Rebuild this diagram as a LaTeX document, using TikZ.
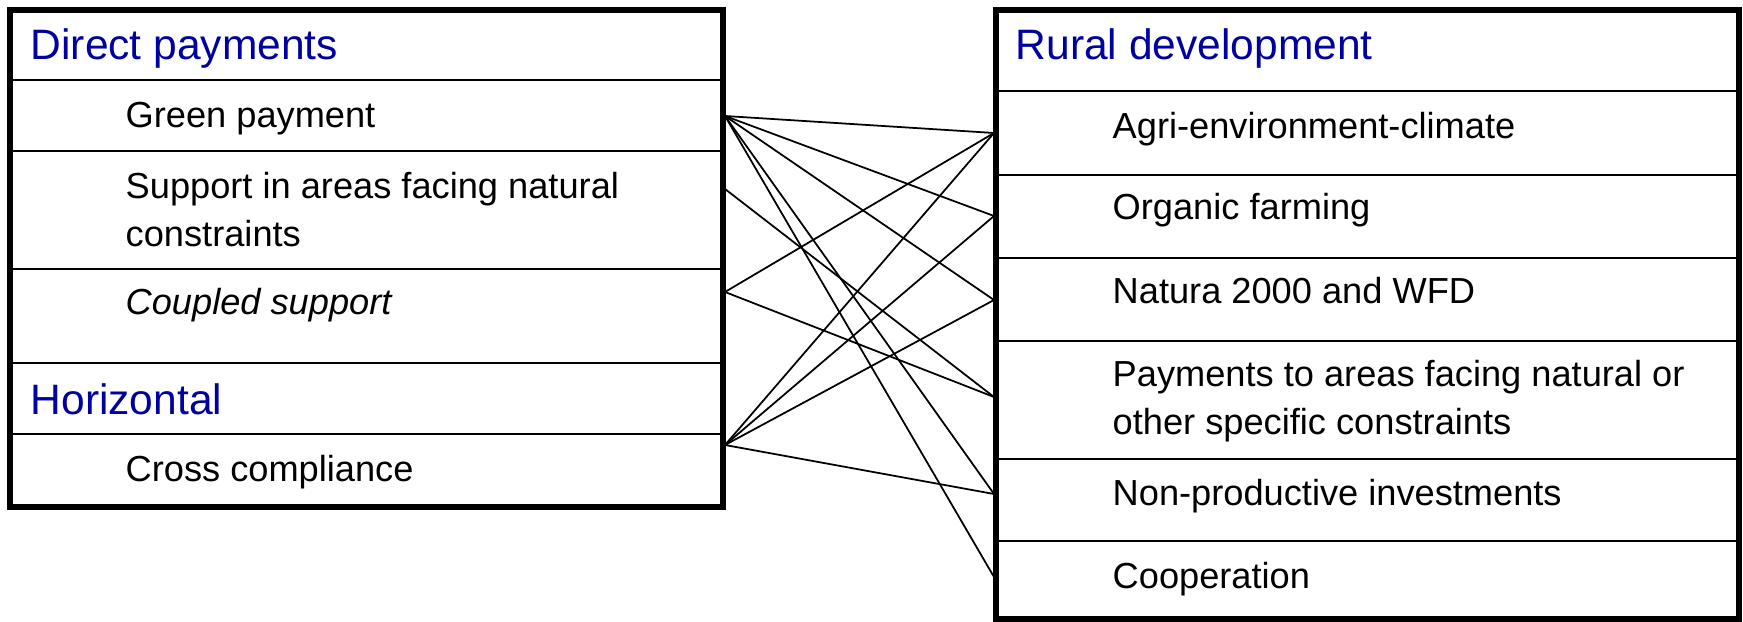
\documentclass[tikz,border=0pt]{standalone}
\usepackage{fontspec}
\setmainfont{Liberation Sans}
\definecolor{headblue}{RGB}{0,0,160}

\begin{document}
\begin{tikzpicture}[x=0.01cm, y=-0.01cm,
  frame/.style={draw=black, line width=1.45pt},
  rule/.style={draw=black, line width=0.6pt},
  head/.style={anchor=base west, inner sep=0pt, text=headblue, font=\fontsize{12.1}{14.5}\selectfont},
  item/.style={anchor=base west, inner sep=0pt, align=left, font=\fontsize{10.3}{13.9}\selectfont},
  link/.style={draw=black, line width=0.5pt}]
\useasboundingbox (0,0) rectangle (1743,622);

% direct payments block
\draw [rule] (10,80)--(723,80);
\draw [rule] (10,151)--(723,151);
\draw [rule] (10,269)--(723,269);
\draw [rule] (10,363)--(723,363);
\draw [rule] (10,434)--(723,434);
\draw [frame] (10,10) rectangle (723,507);
\node[head] (dp) at (30,60) {Direct payments};
\node[item] (gp) at (125,128) {Green payment};
% base of a two-line node is on its last line
\node[item] (anc) at (125,247) {Support in areas facing natural\\constraints};
\node[item] (cs) at (125,315) {\itshape Coupled support};
\node[head] (hz) at (30,415) {Horizontal};
\node[item] (cc) at (125,482) {Cross compliance};

% rural development block
\draw [rule] (996,91)--(1739,91);
\draw [rule] (996,175)--(1739,175);
\draw [rule] (996,258)--(1739,258);
\draw [rule] (996,341)--(1739,341);
\draw [rule] (996,459)--(1739,459);
\draw [rule] (996,541)--(1739,541);
\draw [frame] (996,10) rectangle (1739,619);
\node[head] (rd) at (1015,60) {Rural development};
\node[item] (aec) at (1112,139) {Agri-environment-climate};
\node[item] (of) at (1112,220) {Organic farming};
\node[item] (n2k) at (1112,304) {Natura 2000 and WFD};
\node[item] (anc2) at (1112,435) {Payments to areas facing natural or\\other specific constraints};
\node[item] (npi) at (1112,506) {Non-productive investments};
\node[item] (coop) at (1112,588) {Cooperation};

% link ends
\coordinate (gp-e) at (725,116);
\coordinate (anc-e) at (725,189);
\coordinate (cs-e) at (725,292);
\coordinate (cc-e) at (725,445);
\coordinate (aec-w) at (994,133);
\coordinate (of-w) at (994,216);
\coordinate (n2k-w) at (994,300);
\coordinate (anc2-w) at (994,397);
\coordinate (npi-w) at (994,494);
\coordinate (coop-w) at (994,577);

\draw [link] (gp-e)--(aec-w);
\draw [link] (gp-e)--(of-w);
\draw [link] (gp-e)--(n2k-w);
\draw [link] (gp-e)--(npi-w);
\draw [link] (gp-e)--(coop-w);
\draw [link] (anc-e)--(anc2-w);
\draw [link] (cs-e)--(aec-w);
\draw [link] (cs-e)--(anc2-w);
\draw [link] (cc-e)--(aec-w);
\draw [link] (cc-e)--(of-w);
\draw [link] (cc-e)--(n2k-w);
\draw [link] (cc-e)--(npi-w);
\end{tikzpicture}
\end{document}
